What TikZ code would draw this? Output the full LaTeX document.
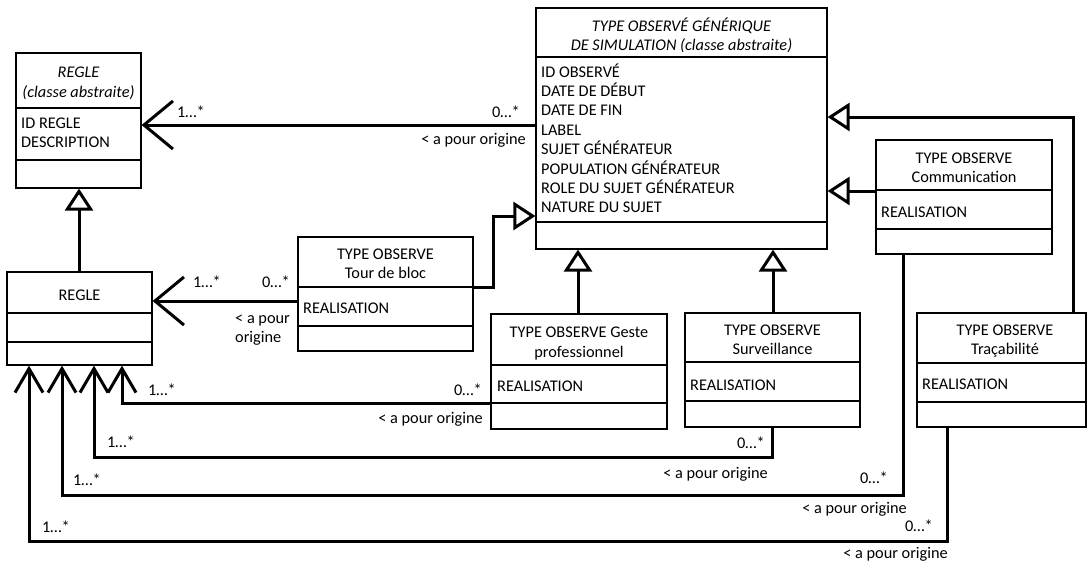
\documentclass[tikz,border=0pt]{standalone}
\usepackage{fontspec}
\setmainfont{Carlito}
\usetikzlibrary{arrows.meta,fit}
\newcommand\umlfs{\fontsize{16.3}{19.5}\selectfont}
\begin{document}
\begin{tikzpicture}[x=1pt,y=-1pt,
  box/.style={draw, line width=1.2pt, inner sep=0pt},
  sepl/.style={line width=1.2pt},
  txt/.style={inner sep=0pt, anchor=base, font=\umlfs},
  txtl/.style={inner sep=0pt, anchor=base west, font=\umlfs},
  txtr/.style={inner sep=0pt, anchor=base east, font=\umlfs},
  ital/.style={font=\umlfs\itshape},
  assoc/.style={line width=3pt, -{Straight Barb[length=24pt,width=28pt]}},
  bigassoc/.style={line width=3pt, -{Straight Barb[length=29pt,width=48pt]}},
  genz/.style={line width=3pt, -{Triangle[open,length=22pt,width=28pt]}}
]
\useasboundingbox (0,0) rectangle (1087,562);

% ---------- REGLE (classe abstraite)
\node[box, fit={(16,53) (141,188)}] (rabs) {};
\draw[sepl] (rabs.west |- 0,108) -- (rabs.east |- 0,108);
\draw[sepl] (rabs.west |- 0,160) -- (rabs.east |- 0,160);
\node[txt, ital] (rabs1) at (78.5,77) {REGLE};
\node[txt, ital] (rabs2) at (78.5,97.5) {(classe abstraite)};
\node[txtl] (rabs3) at (21,128) {ID REGLE};
\node[txtl] (rabs4) at (21,147) {DESCRIPTION};

% ---------- TYPE OBSERVE GENERIQUE
\node[box, fit={(536,8) (827,249)}] (gen) {};
\draw[sepl] (gen.west |- 0,57) -- (gen.east |- 0,57);
\draw[sepl] (gen.west |- 0,222) -- (gen.east |- 0,222);
\node[txt, ital] (gen1) at (681.5,31) {TYPE OBSERVÉ GÉNÉRIQUE};
\node[txt, ital] (gen2) at (681.5,50) {DE SIMULATION (classe abstraite)};
\node[txtl] (ga1) at (541,77) {ID OBSERVÉ};
\node[txtl] (ga2) at (541,96.4) {DATE DE DÉBUT};
\node[txtl] (ga3) at (541,115.8) {DATE DE FIN};
\node[txtl] (ga4) at (541,135.2) {LABEL};
\node[txtl] (ga5) at (541,154.6) {SUJET GÉNÉRATEUR};
\node[txtl] (ga6) at (541,174) {POPULATION GÉNÉRATEUR};
\node[txtl] (ga7) at (541,193.4) {ROLE DU SUJET GÉNÉRATEUR};
\node[txtl] (ga8) at (541,212.8) {NATURE DU SUJET};

% ---------- REGLE
\node[box, fit={(7,272) (152,365)}] (regle) {};
\draw[sepl] (regle.west |- 0,313) -- (regle.east |- 0,313);
\draw[sepl] (regle.west |- 0,342) -- (regle.east |- 0,342);
\node[txt] (regle1) at (79.5,300) {REGLE};

% ---------- Tour de bloc
\node[box, fit={(298,237) (473,351)}] (tour) {};
\draw[sepl] (tour.west |- 0,287) -- (tour.east |- 0,287);
\draw[sepl] (tour.west |- 0,326) -- (tour.east |- 0,326);
\node[txt] (tour1) at (385.5,259) {TYPE OBSERVE};
\node[txt] (tour2) at (385.5,278) {Tour de bloc};
\node[txtl] (tour3) at (303,313) {REALISATION};

% ---------- Geste professionnel
\node[box, fit={(491,314) (667,429)}] (geste) {};
\draw[sepl] (geste.west |- 0,365) -- (geste.east |- 0,365);
\draw[sepl] (geste.west |- 0,403) -- (geste.east |- 0,403);
\node[txt] (geste1) at (579,337) {TYPE OBSERVE Geste};
\node[txt] (geste2) at (579,357) {professionnel};
\node[txtl] (geste3) at (497,391) {REALISATION};

% ---------- Surveillance
\node[box, fit={(685,313) (860,427)}] (surv) {};
\draw[sepl] (surv.west |- 0,362) -- (surv.east |- 0,362);
\draw[sepl] (surv.west |- 0,401) -- (surv.east |- 0,401);
\node[txt] (surv1) at (772.5,335) {TYPE OBSERVE};
\node[txt] (surv2) at (772.5,354) {Surveillance};
\node[txtl] (surv3) at (690,390) {REALISATION};

% ---------- Communication
\node[box, fit={(876,140) (1052,254)}] (comm) {};
\draw[sepl] (comm.west |- 0,190) -- (comm.east |- 0,190);
\draw[sepl] (comm.west |- 0,229) -- (comm.east |- 0,229);
\node[txt] (comm1) at (964,163) {TYPE OBSERVE};
\node[txt] (comm2) at (964,182) {Communication};
\node[txtl] (comm3) at (881,217) {REALISATION};

% ---------- Tracabilite
\node[box, fit={(917,313) (1086,427)}] (trac) {};
\draw[sepl] (trac.west |- 0,363) -- (trac.east |- 0,363);
\draw[sepl] (trac.west |- 0,402) -- (trac.east |- 0,402);
\node[txt] (trac1) at (1005,335) {TYPE OBSERVE};
\node[txt] (trac2) at (1005,354) {Traçabilité};
\node[txtl] (trac3) at (922,389) {REALISATION};

% ---------- generalisations
\draw[genz] (regle.north -| 79,0) -- (rabs.south -| 79,0);
\draw[genz] (tour.east |- 0,287) -- (493,287) -- (493,216) -- (gen.west |- 0,216);
\draw[genz] (geste.north -| 578,0) -- (gen.south -| 578,0);
\draw[genz] (surv.north -| 773,0) -- (gen.south -| 773,0);
\draw[genz] (comm.west |- 0,191) -- (gen.east |- 0,191);
\draw[genz] (trac.north -| 1073,0) -- (1073,117) -- (gen.east |- 0,117);

% ---------- associations
\draw[bigassoc] (gen.west |- 0,125) -- (rabs.east |- 0,125);
\node[txtl] (m1a) at (177,117) {1…*};
\node[txtr] (m1b) at (520,117) {0…*};
\node[txtr] (r1) at (526,144) {< a pour origine};

\draw[bigassoc] (tour.west |- 0,301) -- (regle.east |- 0,301);
\node[txtl] (m2a) at (193,287) {1…*};
\node[txtr] (m2b) at (290,287) {0…*};
\node[txtl] (r2a) at (235,323) {< a pour};
\node[txtl] (r2b) at (235,342) {origine};

\draw[assoc] (geste.west |- 0,403) -| (regle.south -| 122,0);
\node[txtl] (m3a) at (148,395) {1…*};
\node[txtr] (m3b) at (482,395) {0…*};
\node[txtr] (r3) at (483,423) {< a pour origine};

\draw[assoc] (surv.south -| 772,0) -- (772,457) -| (regle.south -| 94,0);
\node[txtl] (m4a) at (107,447) {1…*};
\node[txtr] (m4b) at (765,448) {0…*};
\node[txtr] (r4) at (768,478) {< a pour origine};

\draw[assoc] (comm.south -| 903,0) -- (903,495) -| (regle.south -| 62,0);
\node[txtl] (m5a) at (73,485) {1…*};
\node[txtr] (m5b) at (888,483) {0…*};
\node[txtr] (r5) at (907,513) {< a pour origine};

\draw[assoc] (trac.south -| 947,0) -- (947,541) -| (regle.south -| 29,0);
\node[txtl] (m6a) at (42,532) {1…*};
\node[txtr] (m6b) at (933,531) {0…*};
\node[txtr] (r6) at (948,558) {< a pour origine};
\end{tikzpicture}
\end{document}
